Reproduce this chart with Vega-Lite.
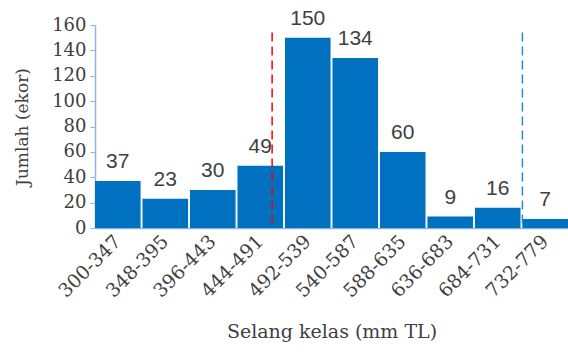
{
  "$schema": "https://vega.github.io/schema/vega-lite/v6.json",
  "autosize": "none",
  "width": 473,
  "height": 203,
  "padding": {"left": 95, "top": 25, "right": 0, "bottom": 126},
  "background": "white",
  "config": {"view": {"stroke": null}},
  "data": {"values": [
    {"kelas": "300-347", "jumlah": 37},
    {"kelas": "348-395", "jumlah": 23},
    {"kelas": "396-443", "jumlah": 30},
    {"kelas": "444-491", "jumlah": 49},
    {"kelas": "492-539", "jumlah": 150},
    {"kelas": "540-587", "jumlah": 134},
    {"kelas": "588-635", "jumlah": 60},
    {"kelas": "636-683", "jumlah": 9},
    {"kelas": "684-731", "jumlah": 16},
    {"kelas": "732-779", "jumlah": 7}
  ]},
  "encoding": {
    "x": {"field": "kelas", "type": "nominal", "sort": null,
      "scale": {"paddingInner": 0.04, "paddingOuter": 0},
      "axis": {"title": "Selang kelas (mm TL)", "labelAngle": -45, "labelAlign": "right", "labelBaseline": "middle",
        "labelFont": "DejaVu Serif", "labelFontSize": 19, "labelColor": "#404040", "labelPadding": 10, "labelOverlap": false,
        "titleFont": "DejaVu Serif", "titleFontSize": 19, "titleFontWeight": "normal", "titleColor": "#404040", "titlePadding": 22,
        "ticks": false, "domainColor": "#8EB4E3", "domainWidth": 1.5}},
    "y": {"field": "jumlah", "type": "quantitative",
       "scale": {"domain": [0, 160]},
       "axis": {"title": "Jumlah (ekor)", "values": [0,20,40,60,80,100,120,140,160], "grid": false,
         "labelFont": "DejaVu Serif", "labelFontSize": 18, "labelColor": "#404040", "labelPadding": 4, "labelOverlap": false, "labelFlush": false,
         "titleFont": "DejaVu Serif", "titleFontSize": 17, "titleFontWeight": "normal", "titleColor": "#404040", "titlePadding": 20,
         "domainColor": "#8EB4E3", "domainWidth": 1.5, "tickColor": "#8EB4E3", "tickSize": 5}}
  },
  "layer": [
    {"mark": {"type": "bar", "color": "#0070C0"}},
    {"mark": {"type": "text", "baseline": "alphabetic", "dy": -13, "font": "Liberation Sans", "fontSize": 21, "color": "#404040"},
     "encoding": {"text": {"field": "jumlah", "type": "quantitative"}}},
    {"data": {"values": [{"kelas": "444-491", "jumlah": 154}]},
     "mark": {"type": "rule", "color": "#FF0000", "strokeDash": [9, 5], "strokeWidth": 1.5},
     "encoding": {"x": {"field": "kelas", "type": "nominal", "bandPosition": 0.76}, "y2": {"datum": 0}}},
    {"data": {"values": [{"kelas": "732-779", "jumlah": 154}]},
     "mark": {"type": "rule", "color": "#2E86D0", "strokeDash": [9, 5], "strokeWidth": 1.5},
     "encoding": {"x": {"field": "kelas", "type": "nominal", "bandPosition": 0}, "y2": {"datum": 0}}}
  ]
}
